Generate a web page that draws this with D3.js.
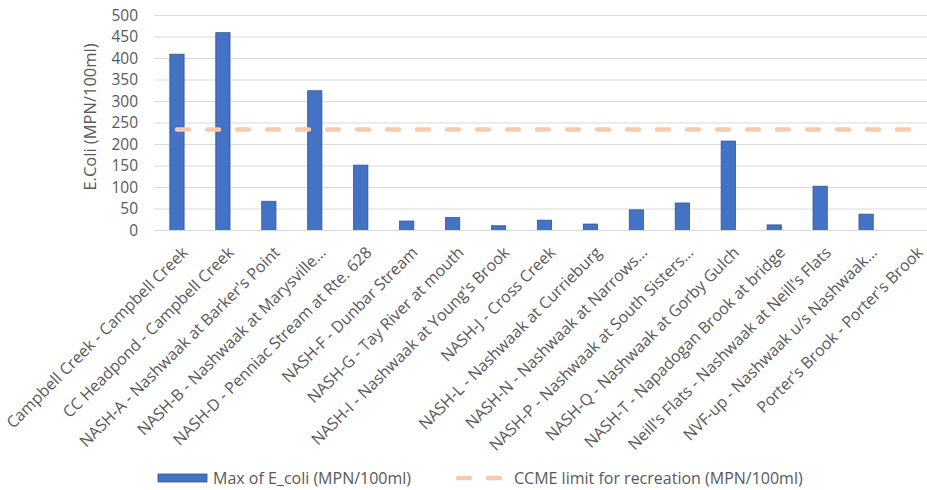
<!DOCTYPE html>
<html>
<head>
<meta charset="utf-8">
<script src="https://cdn.jsdelivr.net/npm/d3@7"></script>
<style>
  html, body { margin: 0; padding: 0; background: #fff; }
  svg { display: block; font-family: "Open Sans", "Noto Sans", sans-serif; }
</style>
</head>
<body>
<svg id="chart" width="927" height="490"></svg>
<script>
// Sampling sites
const sites = [
  "Campbell Creek - Campbell Creek",
  "CC Headpond  - Campbell Creek",
  "NASH-A - Nashwaak at Barker's Point",
  "NASH-B - Nashwaak at Marysville…",
  "NASH-D - Penniac Stream at Rte. 628",
  "NASH-F - Dunbar Stream",
  "NASH-G - Tay River at mouth",
  "NASH-I - Nashwaak at Young's Brook",
  "NASH-J - Cross Creek",
  "NASH-L - Nashwaak at Currieburg",
  "NASH-N - Nashwaak at Narrows…",
  "NASH-P - Nashwaak at South Sisters…",
  "NASH-Q - Nashwaak at Gorby Gulch",
  "NASH-T - Napadogan Brook at bridge",
  "Neill's Flats - Nashwaak at Neill's Flats",
  "NVF-up - Nashwaak u/s Nashwaak…",
  "Porter's Brook - Porter's Brook"
];

// Max E. coli per site (MPN/100ml); null = no sample
const maxEcoli = [410, 460, 68, 325, 152, 22, 30, 11, 24, 15, 48, 64, 208, 13, 103, 38, null];

// CCME recreational guideline (MPN/100ml)
const ccmeLimit = sites.map(() => 235);

const yTicks = [0, 50, 100, 150, 200, 250, 300, 350, 400, 450, 500];

const seriesNames = ["Max of E_coli (MPN/100ml)", "CCME limit for recreation (MPN/100ml)"];

const svg = d3.select("#chart");
const margin = { left: 154, right: -8, top: 15.5, bottom: 259.5 };
const W = 927, H = 490;

const x = d3.scaleBand()
  .domain(sites)
  .range([margin.left, W - margin.right])
  .paddingInner(0.69)
  .paddingOuter(0.345);

const y = d3.scaleLinear()
  .domain([0, 500])
  .range([H - margin.bottom, margin.top]);

const textColor = "#595959";

// gridlines
svg.append("g")
  .selectAll("line")
  .data(yTicks.filter(d => d > 0))
  .join("line")
  .attr("x1", margin.left).attr("x2", W)
  .attr("y1", d => y(d)).attr("y2", d => y(d))
  .attr("stroke", "#d9d9d9").attr("stroke-width", 1);

// y axis labels
const yAxis = d3.axisLeft(y).tickValues(yTicks).tickSize(0).tickPadding(16);
const yg = svg.append("g").attr("transform", `translate(${margin.left},0)`).call(yAxis);
yg.select(".domain").remove();
yg.selectAll("text").attr("font-size", 15.5).attr("fill", textColor)
  .attr("font-family", "'Open Sans', sans-serif");

// y axis title
svg.append("text")
  .attr("transform", `translate(96,117) rotate(-90)`)
  .attr("text-anchor", "middle")
  .attr("font-size", 16.5)
  .attr("fill", textColor)
  .text("E.Coli (MPN/100ml)");

// bars
const bandCenter = d => x(d) + x.bandwidth() / 2;
svg.append("g")
  .selectAll("rect")
  .data(sites.map((s, i) => ({ s, v: maxEcoli[i] })).filter(d => d.v != null))
  .join("rect")
  .attr("x", d => x(d.s))
  .attr("width", x.bandwidth())
  .attr("y", d => y(d.v))
  .attr("height", d => y(0) - y(d.v))
  .attr("fill", "#4472c4")
  .attr("stroke", "#2f5597")
  .attr("stroke-width", 0.8);

// x axis baseline
svg.append("line")
  .attr("x1", margin.left).attr("x2", W)
  .attr("y1", y(0)).attr("y2", y(0))
  .attr("stroke", "#d9d9d9").attr("stroke-width", 1);

// category labels
const xAxis = d3.axisBottom(x).tickSize(0).tickPadding(0);
const xg = svg.append("g").attr("transform", `translate(0,${y(0)})`).call(xAxis);
xg.select(".domain").remove();
xg.selectAll("text")
  .attr("font-size", 16)
  .attr("font-family", "'Open Sans', sans-serif")
  .attr("fill", textColor)
  .attr("text-anchor", "end")
  .attr("dy", null)
  .attr("transform", "translate(12,23) rotate(-45)");

// CCME limit line
const line = d3.line().x(d => bandCenter(d.s)).y(d => y(d.v));
svg.append("path")
  .datum(sites.map((s, i) => ({ s, v: ccmeLimit[i] })))
  .attr("d", line)
  .attr("fill", "none")
  .attr("stroke", "#f8cbad")
  .attr("stroke-width", 4.5)
  .attr("stroke-linecap", "round")
  .attr("stroke-dasharray", "12,18");

// legend
const lg = svg.append("g");
lg.append("rect").attr("x", 158).attr("y", 474).attr("width", 49).attr("height", 8)
  .attr("fill", "#4472c4").attr("stroke", "#2f5597").attr("stroke-width", 0.8);
lg.append("text").attr("x", 213).attr("y", 484).attr("font-size", 16).attr("fill", textColor)
  .text(seriesNames[0]);
lg.append("line").attr("x1", 458).attr("x2", 502).attr("y1", 478).attr("y2", 478)
  .attr("stroke", "#f8cbad").attr("stroke-width", 4.5).attr("stroke-linecap", "round")
  .attr("stroke-dasharray", "12,18");
lg.append("text").attr("x", 514).attr("y", 484).attr("font-size", 16).attr("fill", textColor)
  .text(seriesNames[1]);
</script>
</body>
</html>
